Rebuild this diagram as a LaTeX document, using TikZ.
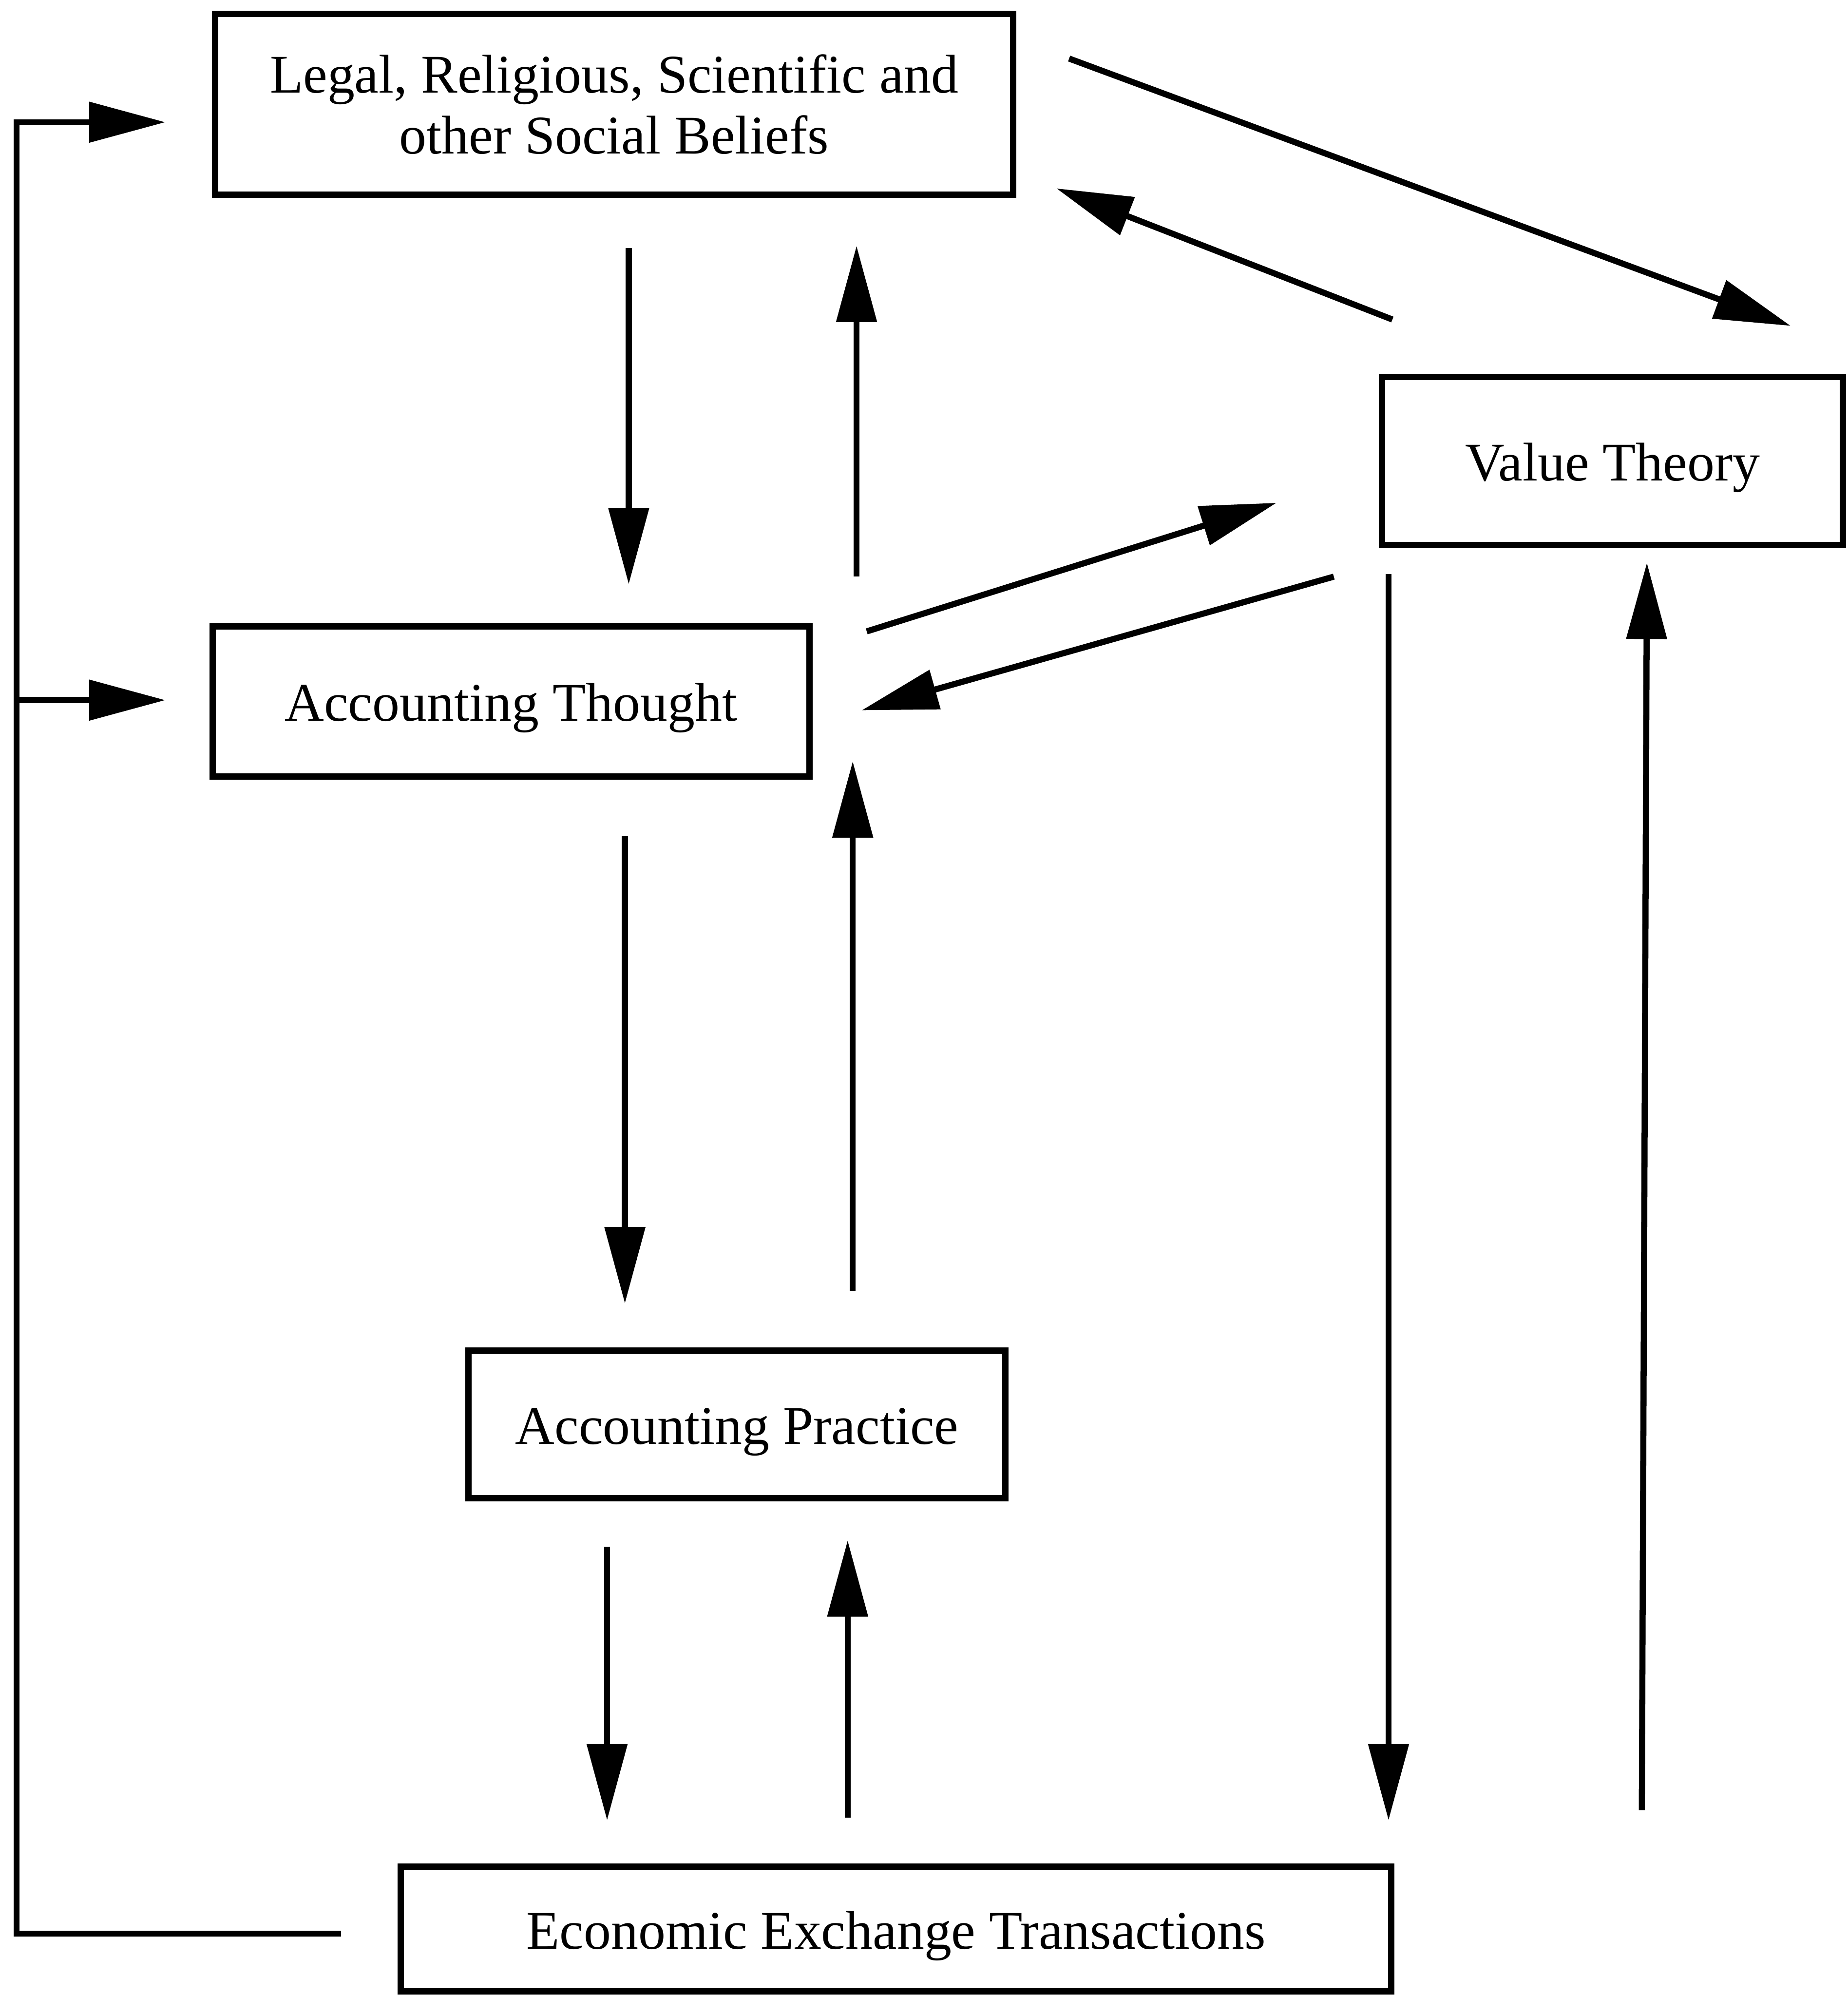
\documentclass[tikz,border=0pt]{standalone}
\usepackage{fontspec}
\setmainfont{Liberation Serif}
\usetikzlibrary{arrows.meta}
\tikzset{
  box/.style={draw=black, line width=2.5pt, rectangle, inner sep=0pt, align=center,
    font=\fontsize{21.4pt}{24pt}\selectfont},
  onebox/.style={box, text height=18pt, text depth=2.5pt},
  link/.style={draw=black, line width=2.4pt, -{Triangle[length=30pt,width=15.5pt]}}
}
\begin{document}
\begin{tikzpicture}[x=0.5pt,y=-0.5pt]
\useasboundingbox (0,0) rectangle (1452,1568);
% boxes
\node[box, minimum width=313.5pt, minimum height=71pt] (legal) at (482.5,82)
  {Legal, Religious, Scientific and\\other Social Beliefs};
\node[onebox, minimum width=181pt, minimum height=66pt] (value) at (1267,362) {Value Theory};
\node[onebox, minimum width=234.5pt, minimum height=59pt] (thought) at (401.5,551) {Accounting Thought};
\node[onebox, minimum width=211pt, minimum height=58pt] (practice) at (579,1119) {Accounting Practice};
\node[onebox, minimum width=389pt, minimum height=49pt] (econ) at (704,1515.5) {Economic Exchange Transactions};
% connector end points
\coordinate (fbS) at (268,1519);
\coordinate (fbC1) at (13,1519);
\coordinate (fbC2) at (13,96);
\coordinate (fbT1) at (130,96);
\coordinate (fbM) at (13,550);
\coordinate (fbT2) at (130,550);
\coordinate (lt1) at (494,195);   \coordinate (lt2) at (494,459);
\coordinate (tl1) at (673,453);   \coordinate (tl2) at (673,193);
\coordinate (lv1) at (840,46);    \coordinate (lv2) at (1407,256);
\coordinate (vl1) at (1094,251);  \coordinate (vl2) at (830,148);
\coordinate (tv1) at (681,496);   \coordinate (tv2) at (1003,395);
\coordinate (vt1) at (1048,453);  \coordinate (vt2) at (677,558);
\coordinate (tp1) at (491,657);   \coordinate (tp2) at (491,1024);
\coordinate (pt1) at (670,1014);  \coordinate (pt2) at (670,598);
\coordinate (pe1) at (477,1215);  \coordinate (pe2) at (477,1430);
\coordinate (ep1) at (666,1428);  \coordinate (ep2) at (666,1210);
\coordinate (ve1) at (1091,451);  \coordinate (ve2) at (1091,1430);
\coordinate (ev1) at (1290,1422); \coordinate (ev2) at (1294,442);
% feedback loop
\draw[link] (fbS) -- (fbC1) -- (fbC2) -- (fbT1);
\draw[link] (fbM) -- (fbT2);
% connectors
\draw[link] (lt1) -- (lt2);
\draw[link] (tl1) -- (tl2);
\draw[link] (lv1) -- (lv2);
\draw[link] (vl1) -- (vl2);
\draw[link] (tv1) -- (tv2);
\draw[link] (vt1) -- (vt2);
\draw[link] (tp1) -- (tp2);
\draw[link] (pt1) -- (pt2);
\draw[link] (pe1) -- (pe2);
\draw[link] (ep1) -- (ep2);
\draw[link] (ve1) -- (ve2);
\draw[link] (ev1) -- (ev2);
\end{tikzpicture}
\end{document}
